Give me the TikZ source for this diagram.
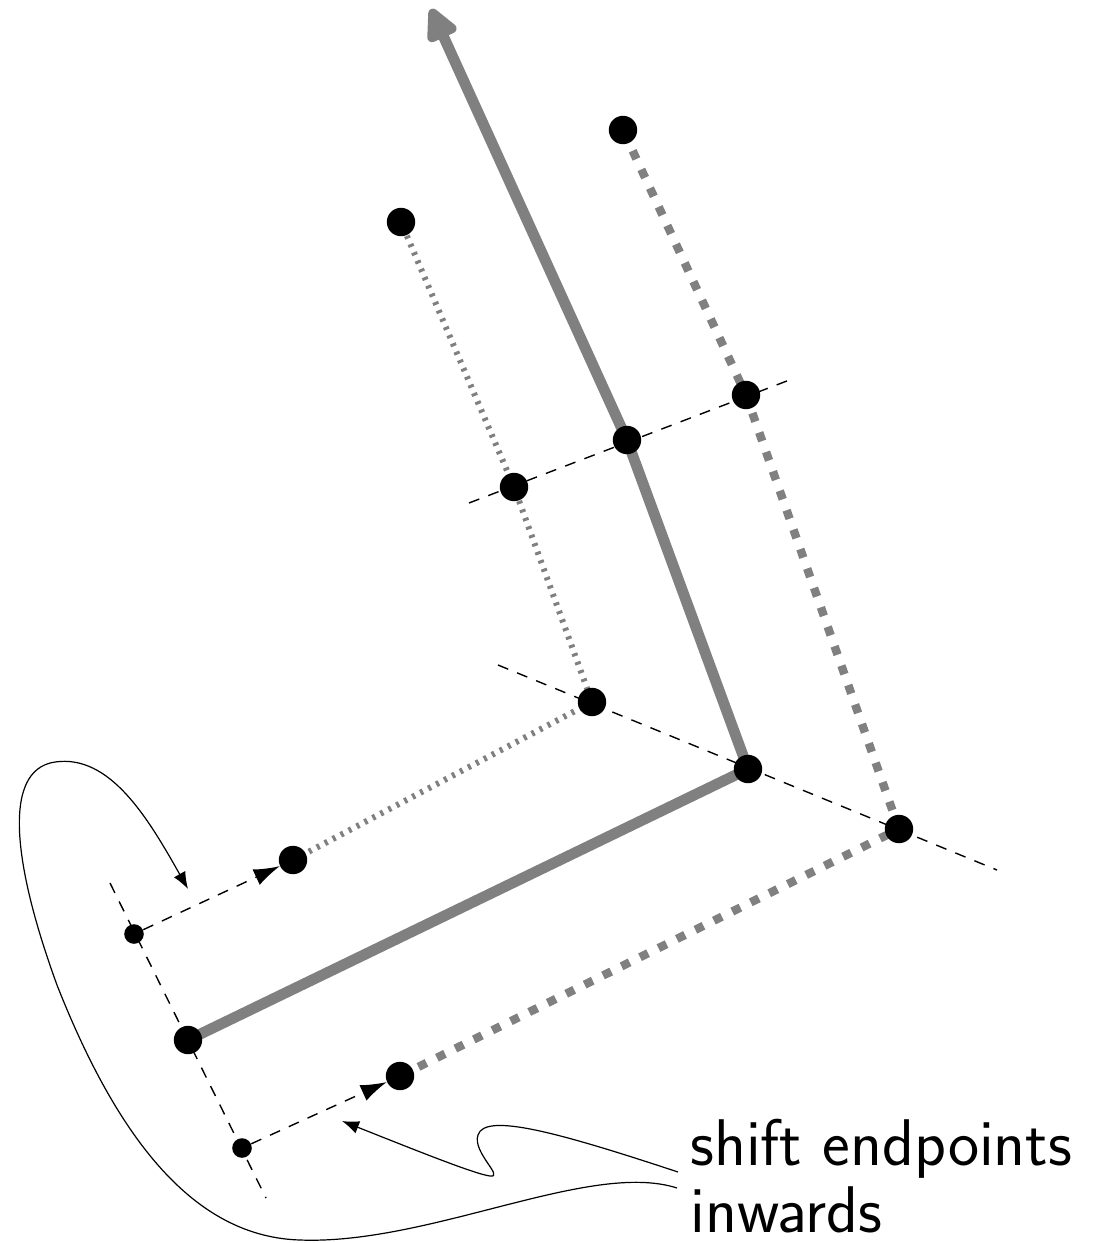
\documentclass[tikz,border=0pt]{standalone}
\usetikzlibrary{arrows.meta}
\begin{document}
\begin{tikzpicture}[x=0.5pt,y=-0.5pt,
  dot/.style={circle,fill=black,inner sep=0pt,minimum size=14.2pt},
  smalldot/.style={circle,fill=black,inner sep=0pt,minimum size=9.8pt},
  mainline/.style={draw=gray,line width=5.4pt,line join=round},
  dottedline/.style={draw=gray,line width=3pt,dash pattern=on 1.5pt off 3pt},
  dashedline/.style={draw=gray,line width=4.2pt,dash pattern=on 4.5pt off 5.8pt},
  guide/.style={draw=black,line width=0.7pt,dash pattern=on 5.5pt off 4.8pt},
  guidearrow/.style={guide,-{Latex[length=13pt,width=8.5pt]}},
  pointer/.style={draw=black,line width=0.6pt,-{Latex[length=8.5pt,width=6.5pt]}},
  label/.style={font=\sffamily\fontsize{33}{33.5}\selectfont,inner sep=0pt,align=left}
]
\useasboundingbox (0,0) rectangle (1107,1243);
% points
\coordinate (pA) at (188,1040);
\coordinate (pB) at (748,769);
\coordinate (pC) at (627,440);
\coordinate (pT) at (431,9);
\coordinate (pH) at (293,860);
\coordinate (pI) at (592,702);
\coordinate (pJ) at (514,487);
\coordinate (pK) at (401,222);
\coordinate (pG) at (400,1076);
\coordinate (pF) at (899,829);
\coordinate (pD) at (746,395);
\coordinate (pE) at (623,130);
\coordinate (pS1) at (134,934);
\coordinate (pS2) at (242,1148);
% guide line ends
\coordinate (g1a) at (110,883);
\coordinate (g1b) at (266,1198);
\coordinate (g2a) at (498,665);
\coordinate (g2b) at (997,870);
\coordinate (g3a) at (469,503);
\coordinate (g3b) at (792,379);
% guides
\draw[guide] (g1a) -- (g1b);
\draw[guide] (g2a) -- (g2b);
\draw[guide] (g3a) -- (g3b);
% gray paths
\draw[dottedline] (pH) -- (pI) -- (pJ) -- (pK);
\draw[dashedline] (pG) -- (pF) -- (pD) -- (pE);
\draw[mainline,-{Triangle[round,length=19pt,width=17pt]}] (pA) -- (pB) -- (pC) -- (pT);
% dots
\foreach \n in {A,B,C,D,E,F,G,H,I,J,K}{
  \node[dot] (\n) at (p\n) {};
}
\node[smalldot] (S1) at (pS1) {};
\node[smalldot] (S2) at (pS2) {};
\draw[guidearrow] (S1) -- (H);
\draw[guidearrow] (S2) -- (G);
% label
\node[label,anchor=north west] (lbl) at (690,1119) {shift endpoints\\inwards};
\coordinate (c1s) at (678,1172);
\coordinate (c1e) at (342,1121);
\coordinate (c2s) at (677,1188);
\coordinate (c2e) at (188,889);
\draw[pointer] (c1s) .. controls (560,1133) and (485,1112) .. (478,1135)
  .. controls (472,1152) and (505,1178) .. (490,1176)
  .. controls (475,1174) and (420,1152) .. (c1e);
\draw[pointer] (c2s) .. controls (590,1160) and (430,1245) .. (300,1240)
  .. controls (200,1237) and (122,1150) .. (57,985)
  .. controls (15,870) and (0,770) .. (55,762)
  .. controls (110,754) and (148,818) .. (c2e);
\end{tikzpicture}
\end{document}
